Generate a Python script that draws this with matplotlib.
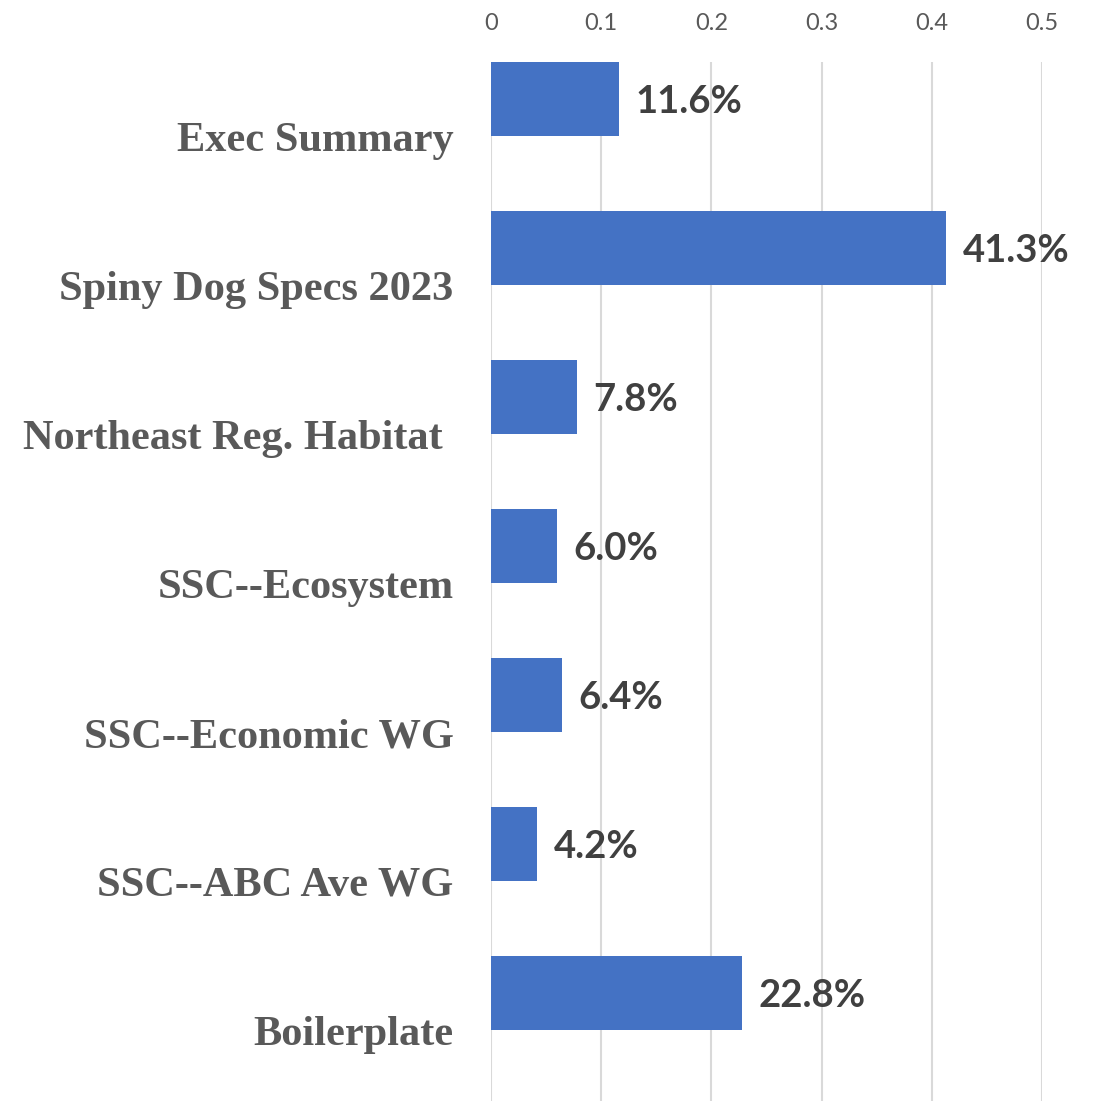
import numpy as np
import matplotlib.pyplot as plt

# Datos del grafico
kategoriler = ['Exec Summary', 'Spiny Dog Specs 2023', 'Northeast Reg. Habitat ',
               'SSC--Ecosystem', 'SSC--Economic WG', 'SSC--ABC Ave WG', 'Boilerplate']
degerler = [0.116, 0.413, 0.078, 0.060, 0.064, 0.042, 0.228]
x_ticks = [0, 0.1, 0.2, 0.3, 0.4, 0.5]
x_tick_labels = ['0', '0.1', '0.2', '0.3', '0.4', '0.5']

fig = plt.figure(figsize=(10.97, 11.01), dpi=100)
ax = fig.add_axes([491 / 1097, 0, (1042 - 491) / 1097, 1 - 62 / 1101])

y = np.arange(len(kategoriler))
ax.barh(y, degerler, height=0.497, align='edge', color='#4472C4', zorder=3)

# Veri etiketleri
for yi, v in zip(y, degerler):
    ax.text(v + 0.015, yi + 0.27, f'{v * 100:.1f}%', va='center', ha='left',
            fontsize=27.5, fontweight='bold', family='Lato', color='#404040')

ax.set_xlim(0, 0.5)
ax.set_ylim((1101 - 62) / 149, 0)
ax.set_xticks(x_ticks)
ax.set_xticklabels(x_tick_labels, fontsize=17, family='Lato', color='#595959')
ax.xaxis.tick_top()
ax.tick_params(axis='x', length=0, pad=20)

ax.set_yticks(y + 0.5)
ax.set_yticklabels(kategoriler, fontsize=30.5, fontweight='bold', family='Liberation Serif',
                   color='#595959')
ax.tick_params(axis='y', length=0, pad=27)

ax.grid(axis='x', color='#D9D9D9', linewidth=1.5, zorder=0)
for s in ax.spines.values():
    s.set_visible(False)

plt.savefig('out.png', dpi=100)
